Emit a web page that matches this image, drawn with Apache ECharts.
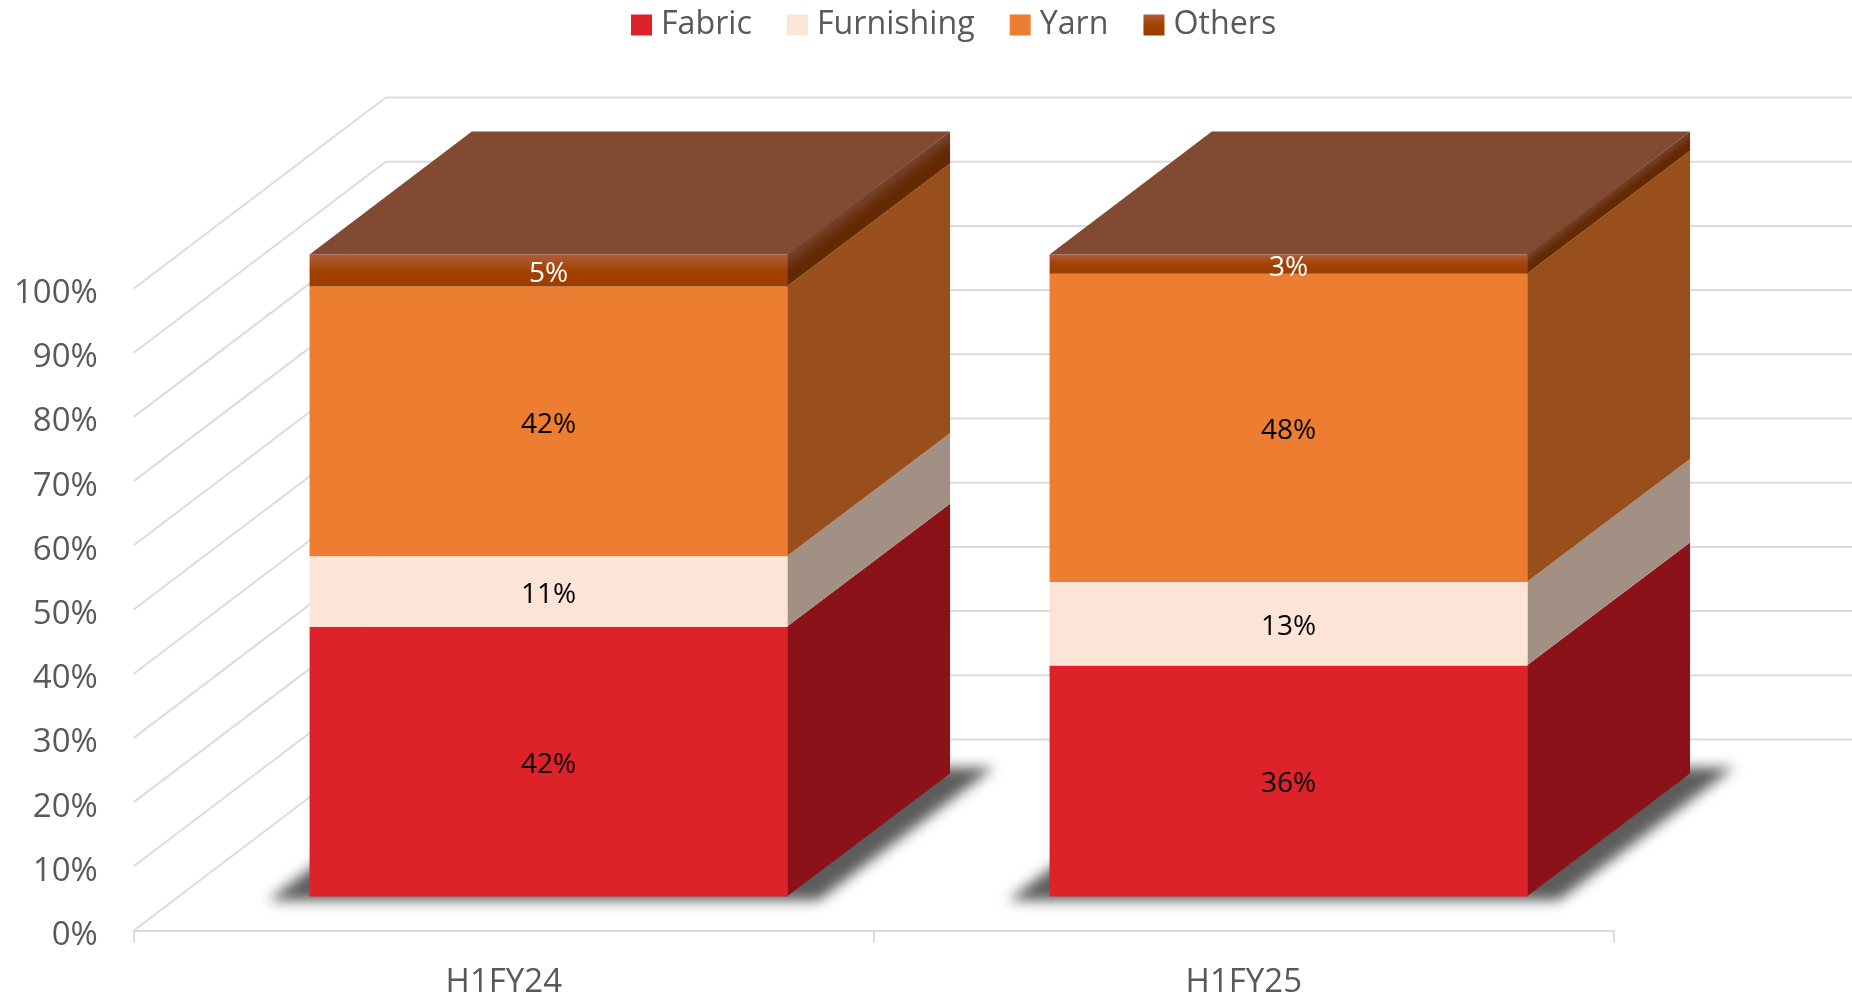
<!DOCTYPE html>
<html>
<head>
<meta charset="utf-8">
<style>html,body{margin:0;padding:0;background:#fff;overflow:hidden}#chart{width:1852px;height:1002px}</style>
<script src="https://cdn.jsdelivr.net/npm/echarts@6/dist/echarts.min.js"></script>
</head>
<body>
<div id="chart"></div>
<script>
const categories = ['H1FY24', 'H1FY25'];
const fabric = [42, 36];
const furnishing = [11, 13];
const yarn = [42, 48];
const others = [5, 3];
const yTicks = [0, 10, 20, 30, 40, 50, 60, 70, 80, 90, 100];

const FONT = '"Open Sans", "Noto Sans", sans-serif';
const TEXT = '#595959', GRID = '#DCDCDC';
// oblique projection of the 3D floor
const DEPTH_X = 252, DEPTH_Y = -191;
const BAR_NEAR = 0.178, BAR_FAR = 0.822, BAR_RATIO = 0.6462;

const grad = (x0, y0, x1, y1, stops, global) => new echarts.graphic.LinearGradient(x0, y0, x1, y1, stops, global);
const othersFront = () => grad(0, 0, 0, 1, [{offset:0,color:'#AE5D3B'},{offset:0.5,color:'#A24200'},{offset:1,color:'#9C3D00'}]);

const segs = [
  {name:'Fabric', values:fabric, front:'#DD2329', side:'#8C1219', label:'#000'},
  {name:'Furnishing', values:furnishing, front:'#FCE4D7', side:'#A39084', label:'#000'},
  {name:'Yarn', values:yarn, front:'#ED7D31', side:'#994F1C', label:'#000'},
  {name:'Others', values:others, front:null, side:'#632900', top:'#834A33', label:'#fff'}
];

function gridRender(params, api) {
  const v = api.value(1);
  const cs = params.coordSys;
  const y = api.coord([0, v])[1];
  const x0 = cs.x, x1 = cs.x + cs.width;
  const st = {stroke: GRID, lineWidth: 2, fill: null};
  return {type:'group', silent:true, children:[
    {type:'line', shape:{x1:x0, y1:y, x2:x0+DEPTH_X, y2:y+DEPTH_Y}, style:st},
    {type:'line', shape:{x1:x0+DEPTH_X, y1:y+DEPTH_Y, x2:x1+DEPTH_X, y2:y+DEPTH_Y}, style:st}
  ]};
}

function barRender(seg, segIndex) {
  return function (params, api) {
    const idx = api.value(0), base = api.value(1), topV = api.value(2), val = api.value(3);
    const band = api.size([1, 0])[0];
    const c0 = api.coord([idx, base]), c1 = api.coord([idx, topV]);
    const w = band * BAR_RATIO;
    const nx = DEPTH_X * BAR_NEAR, ny = DEPTH_Y * BAR_NEAR;
    const dx = DEPTH_X * (BAR_FAR - BAR_NEAR), dy = DEPTH_Y * (BAR_FAR - BAR_NEAR);
    const xL = c0[0] - w / 2 + nx, xR = xL + w;
    const yB = c0[1] + ny, yT = c1[1] + ny;
    const ch = [];
    if (segIndex === 0) {
      // soft floor shadow: the shape sits off-canvas, only its blurred shadow lands on the floor
      const k = dx / dy, e = 6, b = 4, s = 36, OFF = 4000;
      const top = yB + dy - e, bot = yB + b;
      const xAt = (x0, y) => x0 + (y - yB) * k - OFF;
      ch.push({type:'polygon', silent:true, z2:0,
        shape:{points:[[xAt(xL - s, bot), bot],[xAt(xR + s, bot), bot],[xAt(xR + s, top), top],[xAt(xL - s, top), top]]},
        style:{fill:'#5C5C5C', shadowBlur:13, shadowColor:'#5C5C5C', shadowOffsetX:OFF}});
    }
    let sideFill = seg.side;
    if (seg.top) {
      const len = Math.hypot(dx, dy), ux = -dy / len, uy = dx / len;
      const t = (yB - yT) * uy;
      sideFill = grad(xR, yT, xR + ux * t, yT + uy * t,
        [{offset:0,color:'#75442A'},{offset:0.4,color:'#6A3010'},{offset:0.65,color:'#632900'},{offset:1,color:'#632900'}], true);
    }
    ch.push({type:'polygon', z2:1,
      shape:{points:[[xR-1,yB],[xR+dx,yB+dy],[xR+dx,yT+dy],[xR-1,yT]]},
      style:{fill: sideFill}});
    ch.push({type:'rect', z2:2, shape:{x:xL, y:yT, width:w, height:yB-yT},
      style:{fill: seg.front || othersFront()}});
    if (seg.top) {
      ch.push({type:'polygon', z2:3,
        shape:{points:[[xL,yT],[xR,yT],[xR+dx,yT+dy],[xL+dx,yT+dy]]},
        style:{fill:seg.top}});
    }
    ch.push({type:'text', z2:5, silent:true,
      style:{text: val + '%', x:(xL+xR)/2, y:(yT+yB)/2 + 3.5, fill:seg.label,
        fontSize:28, fontFamily:FONT, align:'center', verticalAlign:'middle'}});
    return {type:'group', children:ch};
  };
}

const chart = echarts.init(document.getElementById('chart'), null, {renderer:'canvas'});
const cum = categories.map(() => 0);
const barSeries = segs.map((seg, si) => {
  const data = seg.values.map((v, i) => {
    const row = [i, cum[i], cum[i] + v, v];
    cum[i] += v;
    return row;
  });
  return {
    type:'custom', name:seg.name, data, z:3 + si,
    encode:{x:0, y:[1,2]},
    itemStyle:{color: seg.front || othersFront()},
    renderItem: barRender(seg, si)
  };
});

chart.setOption({
  animation:false,
  backgroundColor:'#fff',
  legend:{
    left:626, top:4, itemWidth:21, itemHeight:21, itemGap:35,
    icon:'rect',
    data:segs.map(s => s.name),
    textStyle:{color:TEXT, fontSize:32.2, fontFamily:FONT, padding:[0,0,0,4]}
  },
  grid:{left:133.8, top:288.5, width:1480, height:642},
  xAxis:{
    type:'category', data:categories,
    axisLine:{lineStyle:{color:GRID, width:2}},
    axisTick:{show:true, alignWithLabel:false, length:12, lineStyle:{color:GRID, width:2}},
    axisLabel:{color:TEXT, fontSize:33, fontFamily:FONT, margin:36}
  },
  yAxis:{
    type:'value', min:0, max:100, interval:10,
    axisLine:{show:false}, axisTick:{show:false}, splitLine:{show:false},
    axisLabel:{
      color:TEXT, fontFamily:FONT, fontSize:33, margin:36,
      formatter:'{lab|{value}%}',
      rich:{lab:{color:TEXT, fontFamily:FONT, fontSize:33, padding:[10,0,0,0]}}
    }
  },
  series:[
    {type:'custom', name:'walls', silent:true, z:1, encode:{x:0,y:1},
      data:yTicks.map(v => [0, v]), renderItem:gridRender}
  ].concat(barSeries)
});
</script>
</body>
</html>
